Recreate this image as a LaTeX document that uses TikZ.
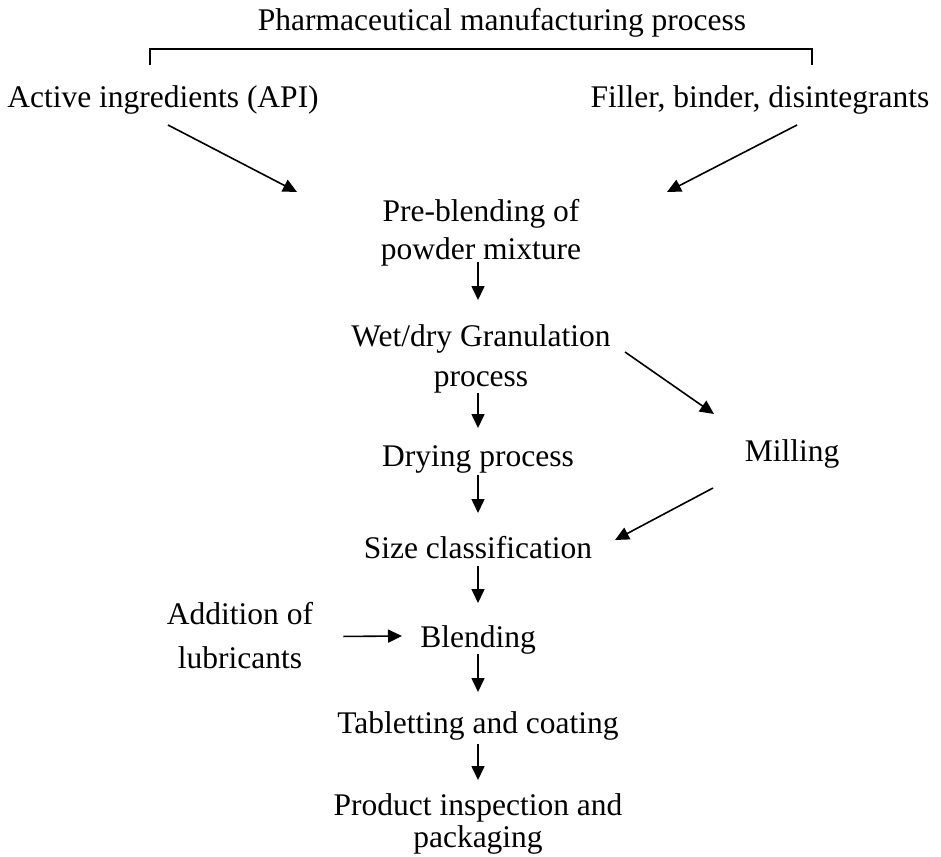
\documentclass[tikz,border=0pt]{standalone}
\usepackage{fontspec}
\setmainfont{Liberation Serif}
\usetikzlibrary{arrows.meta}
\begin{document}
\begin{tikzpicture}[x=1pt,y=-1pt,
  every node/.style={font=\fontsize{31.5}{38}\selectfont, align=center, inner sep=0pt},
  one/.style={anchor=base},
  two/.style={anchor=north, font=\fontsize{31.5}{#1}\selectfont},
  arr/.style={line width=1.6pt, -{Triangle[length=14pt,width=13pt]}},
  brk/.style={line width=1.6pt}]
\useasboundingbox (0,0) rectangle (941,856);
\node[one] (title) at (502,31) {Pharmaceutical manufacturing process};
\node[one] (api) at (163,107) {Active ingredients (API)};
\node[one] (fill) at (760,107) {Filler, binder, disintegrants};
\node[two=38] (pre) at (481,199) {Pre-blending of\\powder mixture};
\node[two=40] (wet) at (481,324) {Wet/dry Granulation\\process};
\node[one] (dry) at (478,466) {Drying process};
\node[one] (mill) at (792,461) {Milling};
\node[one] (size) at (478,558) {Size classification};
\node[two=44] (add) at (240,602) {Addition of\\lubricants};
\node[one] (blend) at (478,647) {Blending};
\node[one] (tab) at (478,733) {Tabletting and coating};
\node[two=32] (prod) at (478,793) {Product inspection and\\packaging};
% bracket
\draw[brk] ([shift={(-352,34)}]title.base) -- ([shift={(-352,18)}]title.base)
  -- ([shift={(310,18)}]title.base) -- ([shift={(310,34)}]title.base);
% arrows
\draw[arr] ([shift={(5,18)}]api.base) -- ([shift={(-184,-7)}]pre.north);
\draw[arr] ([shift={(37,18)}]fill.base) -- ([shift={(186,-7)}]pre.north);
\draw[arr] ([shift={(-3,-4)}]pre.south) -- ([shift={(-3,-24)}]wet.north);
\draw[arr] ([shift={(-3,0)}]wet.south) -- ([shift={(0,-38)}]dry.base);
\draw[arr] ([shift={(144,28)}]wet.north) -- ([shift={(-78,-47)}]mill.base);
\draw[arr] ([shift={(0,9)}]dry.base) -- ([shift={(0,-45)}]size.base);
\draw[arr] ([shift={(-79,27)}]mill.base) -- ([shift={(137,-18)}]size.base);
\draw[arr] ([shift={(0,8)}]size.base) -- ([shift={(0,-44)}]blend.base);
\draw[arr] ([shift={(30,1)}]add.east) -- ([shift={(-76,-11)}]blend.base);
\draw[arr] ([shift={(0,7)}]blend.base) -- ([shift={(0,-41)}]tab.base);
\draw[arr] ([shift={(0,11)}]tab.base) -- ([shift={(0,-13)}]prod.north);
\end{tikzpicture}
\end{document}
